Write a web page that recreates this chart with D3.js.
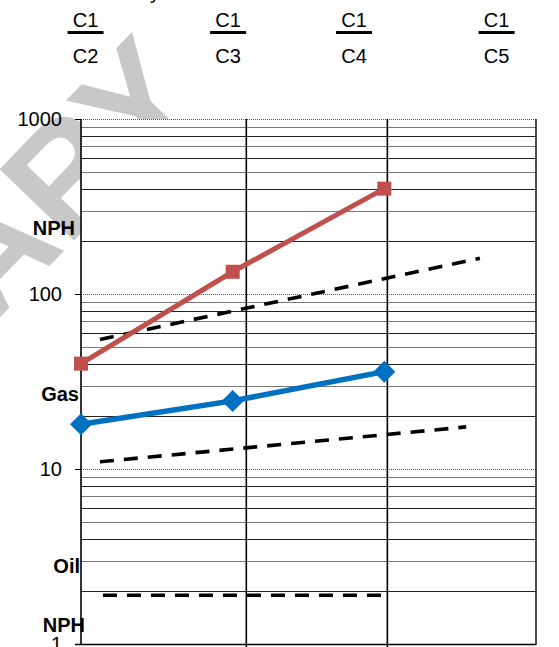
<!DOCTYPE html>
<meta charset='utf-8'>
<title>Ratio chart</title>
<style>
body {
  margin: 0;
  background-color: #fff;
}
text {
  font-family: "Liberation Sans", Arial, sans-serif;
}
</style>
<svg width="559" height="647"></svg>
<script src="https://cdnjs.cloudflare.com/ajax/libs/d3/7.8.5/d3.min.js"></script>
<script>

// ratio headers along the top (numerator / denominator)
var numerators = ["C1", "C1", "C1", "C1"];
var denominators = ["C2", "C3", "C4", "C5"];
var headerPos = [0.03, 0.97, 1.80, 2.74];

// series: x position (ratio index) and value
var redX = [0, 1, 2];
var redValues = [40, 134, 400];
var blueX = [0, 1, 2];
var blueValues = [18, 24.5, 36];

// dashed boundary lines [x, value]
var upperDash = [[0.125, 55], [2.63, 160]];
var lowerDash = [[0.125, 11], [2.54, 17.4]];
var oilDash = [[0.145, 1.9], [2.01, 1.9]];

// vertical grid lines
var vLines = [1.09, 2.02];

// y tick labels and side labels
var yTicks = [1, 10, 100, 1000];
var sideLabels = [
  { text: "NPH", value: 238, dx: 75 },
  { text: "Gas", value: 26.8, dx: 79 },
  { text: "Oil", value: 2.8, dx: 80 },
  { text: "NPH", value: 1.28, dx: 85 }
];

var svg = d3.select("svg");

var plotLeft = 81, plotRight = 536, plotTop = 119, plotBottom = 644;

var x = d3.scaleLinear()
    .domain([0, 3])
    .range([plotLeft, plotRight]);

var y = d3.scaleLog()
    .domain([1, 1000])
    .range([plotBottom, plotTop]);

// watermark, behind everything
svg.append("text")
    .attr("transform", "translate(208,102) rotate(-46)")
    .attr("text-anchor", "end")
    .attr("font-size", 150)
    .attr("font-weight", "bold")
    .attr("fill", "#c8c8c8")
    .text("PRELIMINARY");

// white plot background
svg.append("rect")
    .attr("x", plotLeft)
    .attr("y", plotTop)
    .attr("width", plotRight - plotLeft)
    .attr("height", plotBottom - plotTop)
    .attr("fill", "#fff");

// minor log grid lines
var minor = [];
[1, 10, 100].forEach(function(d) {
  for (var k = 2; k <= 9; k++) minor.push(k * d);
});

svg.append("g")
  .selectAll("line")
    .data(minor)
  .enter().append("line")
    .attr("x1", plotLeft)
    .attr("x2", plotRight)
    .attr("y1", function(d) { return Math.round(y(d)) + 0.5; })
    .attr("y2", function(d) { return Math.round(y(d)) + 0.5; })
    .attr("stroke", function(d, i) { return i % 2 ? "#777" : "#222"; })
    .attr("stroke-width", 1.2);

// major decades: dotted
svg.append("g")
  .selectAll("line")
    .data([10, 100, 1000])
  .enter().append("line")
    .attr("x1", plotLeft)
    .attr("x2", plotRight)
    .attr("y1", function(d) { return Math.round(y(d)) + 0.5; })
    .attr("y2", function(d) { return Math.round(y(d)) + 0.5; })
    .attr("stroke", "#555")
    .attr("stroke-dasharray", "1,1");

// y ticks to the left
svg.append("g")
  .selectAll("line")
    .data(yTicks)
  .enter().append("line")
    .attr("x1", plotLeft - 6)
    .attr("x2", plotLeft)
    .attr("y1", function(d) { return Math.round(y(d)) + 0.5; })
    .attr("y2", function(d) { return Math.round(y(d)) + 0.5; })
    .attr("stroke", "#000");

svg.append("g")
  .selectAll("text")
    .data(yTicks)
  .enter().append("text")
    .attr("x", 62)
    .attr("y", function(d) { return y(d); })
    .attr("dy", "0.36em")
    .attr("text-anchor", "end")
    .attr("font-size", 20)
    .text(function(d) { return d; });

// vertical grid lines
svg.append("g")
  .selectAll("line")
    .data(vLines)
  .enter().append("line")
    .attr("x1", function(d) { return x(d); })
    .attr("x2", function(d) { return x(d); })
    .attr("y1", plotTop)
    .attr("y2", plotBottom + 3)
    .attr("stroke", "#000")
    .attr("stroke-width", 1.6);

// frame: left axis, right border, bottom
svg.append("line")
    .attr("x1", plotLeft).attr("x2", plotLeft)
    .attr("y1", plotTop).attr("y2", plotBottom + 1)
    .attr("stroke", "#000").attr("stroke-width", 1.6);
svg.append("line")
    .attr("x1", plotRight).attr("x2", plotRight)
    .attr("y1", plotTop).attr("y2", plotBottom + 1)
    .attr("stroke", "#000").attr("stroke-width", 1.4);
svg.append("line")
    .attr("x1", plotLeft - 6).attr("x2", plotRight)
    .attr("y1", plotBottom + 0.5).attr("y2", plotBottom + 0.5)
    .attr("stroke", "#000").attr("stroke-width", 1.4);

// side labels
svg.append("g")
  .selectAll("text")
    .data(sideLabels)
  .enter().append("text")
    .attr("x", function(d) { return d.dx; })
    .attr("y", function(d) { return y(d.value); })
    .attr("dy", "0.36em")
    .attr("text-anchor", "end")
    .attr("font-size", 20)
    .attr("font-weight", "bold")
    .text(function(d) { return d.text; });

// dashed lines
var line = d3.line()
    .x(function(d) { return x(d[0]); })
    .y(function(d) { return y(d[1]); });

[upperDash, lowerDash, oilDash].forEach(function(d) {
  svg.append("path")
      .attr("d", line(d))
      .attr("fill", "none")
      .attr("stroke", "#000")
      .attr("stroke-width", 3.6)
      .attr("stroke-dasharray", "14,10");
});

// red series with squares
var red = redX.map(function(d, i) { return [d, redValues[i]]; });
svg.append("path")
    .attr("d", line(red))
    .attr("fill", "none")
    .attr("stroke", "#c0504d")
    .attr("stroke-width", 5);

svg.append("g")
  .selectAll("rect")
    .data(red)
  .enter().append("rect")
    .attr("x", function(d) { return x(d[0]) - 7; })
    .attr("y", function(d) { return y(d[1]) - 7; })
    .attr("width", 14)
    .attr("height", 14)
    .attr("fill", "#c0504d");

// blue series with diamonds
var blue = blueX.map(function(d, i) { return [d, blueValues[i]]; });
svg.append("path")
    .attr("d", line(blue))
    .attr("fill", "none")
    .attr("stroke", "#0070c0")
    .attr("stroke-width", 5.5);

svg.append("g")
  .selectAll("path")
    .data(blue)
  .enter().append("path")
    .attr("transform", function(d) { return "translate(" + [x(d[0]), y(d[1])] + ")"; })
    .attr("d", "M0,-11L11,0L0,11L-11,0Z")
    .attr("fill", "#0070c0");

// ratio headers
var head = svg.append("g")
  .selectAll("g")
    .data(numerators)
  .enter().append("g")
    .attr("transform", function(d, i) { return "translate(" + x(headerPos[i]) + ",0)"; });

head.append("text")
    .attr("y", 27)
    .attr("text-anchor", "middle")
    .attr("font-size", 20)
    .text(function(d) { return d; });

head.append("rect")
    .attr("x", -18)
    .attr("y", 31)
    .attr("width", 36)
    .attr("height", 3)
    .attr("fill", "#000");

head.append("text")
    .attr("y", 63)
    .attr("text-anchor", "middle")
    .attr("font-size", 20)
    .text(function(d, i) { return denominators[i]; });

// title, cut off at top of the frame
svg.append("text")
    .attr("x", 160)
    .attr("y", -1)
    .attr("text-anchor", "end")
    .attr("font-size", 20)
    .text("Ratio Plots by");
</script>
